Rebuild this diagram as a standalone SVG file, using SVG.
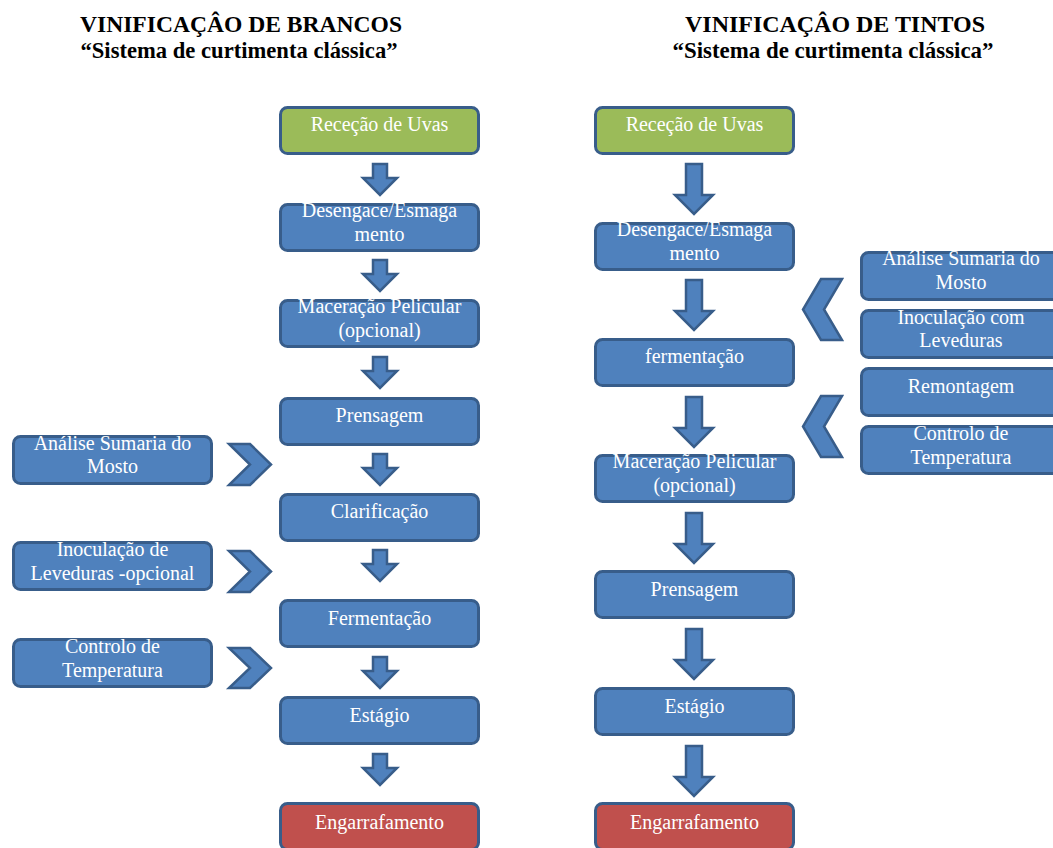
<svg xmlns="http://www.w3.org/2000/svg" width="1053" height="848" viewBox="0 0 1053 848">
<style>
.title{font-family:"Liberation Serif","Times New Roman",serif;font-weight:bold;font-size:23px;fill:#000;text-anchor:middle}
.box{fill:#4f81bd;stroke:#385d8a;stroke-width:3}
.green{fill:#9bbb59}
.red{fill:#c0504d}
.lbl{font-family:"Liberation Serif","Times New Roman",serif;font-size:20px;fill:#fff;text-anchor:middle}
.arr{fill:#4f81bd;stroke:#385d8a;stroke-width:2.5;stroke-linejoin:miter}
</style>
<rect width="1053" height="848" fill="#fff"/>
<g id="titles">
<text class="title" x="241" y="32" textLength="322" lengthAdjust="spacingAndGlyphs">VINIFICAÇÂO DE BRANCOS</text>
<text class="title" x="239" y="58" textLength="317" lengthAdjust="spacingAndGlyphs">“Sistema de curtimenta clássica”</text>
<text class="title" x="835" y="32" textLength="300" lengthAdjust="spacingAndGlyphs">VINIFICAÇÂO DE TINTOS</text>
<text class="title" x="833" y="58" textLength="321" lengthAdjust="spacingAndGlyphs">“Sistema de curtimenta clássica”</text>
</g>
<!-- left column -->
<g id="b1"><rect class="box green" x="280.5" y="107.5" width="198" height="46" rx="7"/><text class="lbl" x="379.5" y="131">Receção de Uvas</text></g>
<g id="b2"><rect class="box" x="280.5" y="204.5" width="198" height="46" rx="7"/><text class="lbl" x="379.5" y="217">Desengace/Esmaga</text><text class="lbl" x="379.5" y="241">mento</text></g>
<g id="b3"><rect class="box" x="280.5" y="300.5" width="198" height="46" rx="7"/><text class="lbl" x="379.5" y="313">Maceração Pelicular</text><text class="lbl" x="379.5" y="337">(opcional)</text></g>
<g id="b4"><rect class="box" x="280.5" y="398.5" width="198" height="46" rx="7"/><text class="lbl" x="379.5" y="422">Prensagem</text></g>
<g id="b5"><rect class="box" x="280.5" y="494.5" width="198" height="46" rx="7"/><text class="lbl" x="379.5" y="518">Clarificação</text></g>
<g id="b6"><rect class="box" x="280.5" y="600.5" width="198" height="46" rx="7"/><text class="lbl" x="379.5" y="625">Fermentação</text></g>
<g id="b7"><rect class="box" x="280.5" y="697.5" width="198" height="46" rx="7"/><text class="lbl" x="379.5" y="722">Estágio</text></g>
<g id="b8"><rect class="box red" x="280.5" y="803.5" width="198" height="46" rx="7"/><text class="lbl" x="379.5" y="829">Engarrafamento</text></g>
<!-- left side -->
<g id="l1"><rect class="box" x="13.5" y="436.5" width="198" height="47" rx="7"/><text class="lbl" x="112.5" y="450">Análise Sumaria do</text><text class="lbl" x="112.5" y="473">Mosto</text></g>
<g id="l2"><rect class="box" x="13.5" y="542.5" width="198" height="47" rx="7"/><text class="lbl" x="112.5" y="556">Inoculação de</text><text class="lbl" x="112.5" y="580">Leveduras -opcional</text></g>
<g id="l3"><rect class="box" x="13.5" y="639.5" width="198" height="47" rx="7"/><text class="lbl" x="112.5" y="653">Controlo de</text><text class="lbl" x="112.5" y="677">Temperatura</text></g>
<!-- right column -->
<g id="r1"><rect class="box green" x="595.5" y="107.5" width="198" height="46" rx="7"/><text class="lbl" x="694.5" y="131">Receção de Uvas</text></g>
<g id="r2"><rect class="box" x="595.5" y="223.5" width="198" height="46" rx="7"/><text class="lbl" x="694.5" y="236">Desengace/Esmaga</text><text class="lbl" x="694.5" y="260">mento</text></g>
<g id="r3"><rect class="box" x="595.5" y="339.5" width="198" height="46" rx="7"/><text class="lbl" x="694.5" y="363">fermentação</text></g>
<g id="r4"><rect class="box" x="595.5" y="455.5" width="198" height="46" rx="7"/><text class="lbl" x="694.5" y="468">Maceração Pelicular</text><text class="lbl" x="694.5" y="492">(opcional)</text></g>
<g id="r5"><rect class="box" x="595.5" y="571.5" width="198" height="46" rx="7"/><text class="lbl" x="694.5" y="596">Prensagem</text></g>
<g id="r6"><rect class="box" x="595.5" y="688.5" width="198" height="46" rx="7"/><text class="lbl" x="694.5" y="713">Estágio</text></g>
<g id="r7"><rect class="box red" x="595.5" y="803.5" width="198" height="46" rx="7"/><text class="lbl" x="694.5" y="829">Engarrafamento</text></g>
<!-- right side -->
<g id="s1"><rect class="box" x="861.5" y="252.5" width="200" height="47" rx="7"/><text class="lbl" x="961" y="265">Análise Sumaria do</text><text class="lbl" x="961" y="289">Mosto</text></g>
<g id="s2"><rect class="box" x="861.5" y="310.5" width="200" height="47" rx="7"/><text class="lbl" x="961" y="324">Inoculação com</text><text class="lbl" x="961" y="347">Leveduras</text></g>
<g id="s3"><rect class="box" x="861.5" y="368.5" width="200" height="47" rx="7"/><text class="lbl" x="961" y="393">Remontagem</text></g>
<g id="s4"><rect class="box" x="861.5" y="426.5" width="200" height="47" rx="7"/><text class="lbl" x="961" y="440">Controlo de</text><text class="lbl" x="961" y="464">Temperatura</text></g>
<g id="connectors">
<path class="arr" d="M373,164 h14 v14 h10 l-17,17 l-17,-17 h10 z"/>
<path class="arr" d="M373,260 h14 v14 h10 l-17,17 l-17,-17 h10 z"/>
<path class="arr" d="M373,357 h14 v14 h10 l-17,17 l-17,-17 h10 z"/>
<path class="arr" d="M373,454 h14 v14 h10 l-17,17 l-17,-17 h10 z"/>
<path class="arr" d="M373,550 h14 v14 h10 l-17,17 l-17,-17 h10 z"/>
<path class="arr" d="M373,657 h14 v14 h10 l-17,17 l-17,-17 h10 z"/>
<path class="arr" d="M373,754 h14 v14 h10 l-17,17 l-17,-17 h10 z"/>
<path class="arr" d="M686,164 h16 v31 h11 l-19,19 l-19,-19 h11 z"/>
<path class="arr" d="M686,280 h16 v31 h11 l-19,19 l-19,-19 h11 z"/>
<path class="arr" d="M686,397 h16 v31 h11 l-19,19 l-19,-19 h11 z"/>
<path class="arr" d="M686,513 h16 v31 h11 l-19,19 l-19,-19 h11 z"/>
<path class="arr" d="M686,629 h16 v31 h11 l-19,19 l-19,-19 h11 z"/>
<path class="arr" d="M686,746 h16 v31 h11 l-19,19 l-19,-19 h11 z"/>
<path class="arr" d="M229,444 h21 l21,20.5 l-21,20.5 h-21 l21,-20.5 z"/>
<path class="arr" d="M229,551 h21 l21,20.5 l-21,20.5 h-21 l21,-20.5 z"/>
<path class="arr" d="M229,648 h21 l21,20 l-21,20 h-21 l21,-20 z"/>
<path class="arr" d="M842,279 h-21 l-18,30.5 l18,30.5 h21 l-18,-30.5 z"/>
<path class="arr" d="M842,396 h-21 l-18,30.5 l18,30.5 h21 l-18,-30.5 z"/>
</g>
</svg>
